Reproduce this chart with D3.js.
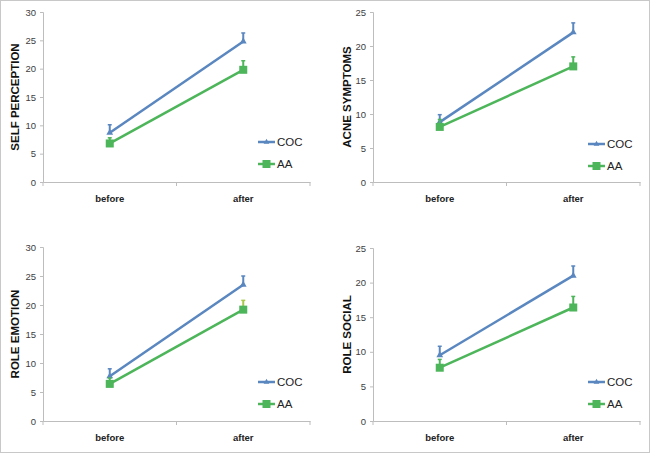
<!DOCTYPE html>
<html><head><meta charset="utf-8">
<script src="https://cdn.jsdelivr.net/npm/d3@7"></script>
<style>
html,body{margin:0;padding:0;background:#fff;}
svg{display:block;font-family:"Liberation Sans",Arial,sans-serif;}
</style></head>
<body><svg id="c" width="651" height="454"></svg>
<script>
// ---- data ----
const categories = ["before", "after"];
const seriesNames = ["COC", "AA"];
const panelTitles = ["SELF PERCEPTION", "ACNE SYMPTOMS", "ROLE EMOTION", "ROLE SOCIAL"];
const panelMax = [30, 25, 30, 25];
const panelTicks = [[0,5,10,15,20,25,30],[0,5,10,15,20,25],[0,5,10,15,20,25,30],[0,5,10,15,20,25]];
const cocValues = [[8.7, 24.8], [8.8, 22.0], [7.7, 23.5], [9.5, 21.0]];
const cocErrors = [[1.4, 1.5], [1.1, 1.4], [1.3, 1.5], [1.3, 1.4]];
const aaValues  = [[6.8, 19.8], [8.1, 17.0], [6.4, 19.2], [7.7, 16.4]];
const aaErrors  = [[1.0, 1.6], [1.1, 1.4], [1.0, 1.6], [1.2, 1.6]];

const colors = {COC: "#5a87bf", AA: "#4db55a"};
const errColors = [["#5a87bf","#5a87bf"],["#4db55a","#4db55a"]];

// ---- layout ----
const layout = [
  {x0: 43,  x1: 310, y0: 182, y1: 12,  tx: 15,  legY: 142},
  {x0: 373, x1: 640, y0: 182, y1: 12,  tx: 347, legY: 144},
  {x0: 43,  x1: 310, y0: 421, y1: 247, tx: 15,  legY: 382},
  {x0: 373, x1: 640, y0: 421, y1: 248, tx: 347, legY: 382}
];

const svg = d3.select("#c");
svg.append("rect").attr("x",0.5).attr("y",0.5).attr("width",649).attr("height",452)
  .attr("fill","#fff").attr("stroke","#c8c8c8");

panelTitles.forEach((title, i) => {
  const L = layout[i];
  const g = svg.append("g");
  const x = d3.scaleBand().domain(categories).range([L.x0, L.x1]);
  const y = d3.scaleLinear().domain([0, panelMax[i]]).range([L.y0, L.y1]);

  // y axis
  const ya = g.append("g").attr("transform", `translate(${L.x0},0)`)
    .call(d3.axisLeft(y).tickValues(panelTicks[i]).tickSize(3).tickPadding(4));
  ya.select(".domain").attr("stroke", "#bdbdbd");
  ya.selectAll(".tick line").attr("stroke", "#bdbdbd");
  ya.selectAll(".tick text").attr("fill", "#404040").attr("font-size", 9.5);

  // x axis
  const xa = g.append("g").attr("transform", `translate(0,${L.y0})`)
    .call(d3.axisBottom(x).tickSize(0).tickPadding(13));
  xa.select(".domain").attr("stroke", "#bdbdbd");
  xa.selectAll(".tick text").attr("fill", "#222").attr("font-size", 9.5).attr("font-weight", "bold");
  // category boundary ticks
  const bounds = [L.x0, (L.x0 + L.x1) / 2, L.x1];
  g.selectAll(".bt").data(bounds).join("line")
    .attr("x1", d => d).attr("x2", d => d).attr("y1", L.y0).attr("y2", L.y0 + 4)
    .attr("stroke", "#bdbdbd");

  // y title
  g.append("text")
    .attr("transform", `translate(${L.tx},${(L.y0 + L.y1) / 2}) rotate(-90)`)
    .attr("text-anchor", "middle").attr("dominant-baseline", "central")
    .attr("font-size", 11.5).attr("font-weight", "bold").attr("fill", "#111")
    .text(title);

  const cx = c => x(c) + x.bandwidth() / 2;
  const series = [
    {name: "COC", vals: cocValues[i], errs: cocErrors[i]},
    {name: "AA",  vals: aaValues[i],  errs: aaErrors[i]}
  ];
  const line = d3.line().x((d, j) => cx(categories[j])).y(d => y(d));

  series.forEach((s, si) => {
    const col = colors[s.name];
    // error bars
    s.vals.forEach((v, j) => {
      const xx = cx(categories[j]);
      const ec = (i === 2 && si === 1 && j === 1) ? "#a9c94a" : col;
      g.append("line").attr("x1", xx).attr("x2", xx).attr("y1", y(v)).attr("y2", y(v + s.errs[j]))
        .attr("stroke", ec).attr("stroke-width", 2);
      g.append("line").attr("x1", xx - 2).attr("x2", xx + 2).attr("y1", y(v + s.errs[j])).attr("y2", y(v + s.errs[j]))
        .attr("stroke", ec).attr("stroke-width", 1.5);
    });
    g.append("path").datum(s.vals).attr("d", line)
      .attr("fill", "none").attr("stroke", col).attr("stroke-width", 2.5);
    // markers
    s.vals.forEach((v, j) => {
      const xx = cx(categories[j]);
      if (s.name === "AA") {
        g.append("rect").attr("x", xx - 4).attr("y", y(v) - 4).attr("width", 8).attr("height", 8).attr("fill", col);
      } else {
        g.append("path").attr("d", d3.symbol(d3.symbolTriangle, 20)())
          .attr("transform", `translate(${xx},${y(v)})`).attr("fill", col);
      }
    });
  });

  // legend
  const lx = L.x1 - 52;
  series.forEach((s, si) => {
    const ly = L.legY + si * 22;
    g.append("line").attr("x1", lx).attr("x2", lx + 17).attr("y1", ly).attr("y2", ly)
      .attr("stroke", colors[s.name]).attr("stroke-width", 2.5);
    if (s.name === "AA") {
      g.append("rect").attr("x", lx + 4.5).attr("y", ly - 4).attr("width", 8).attr("height", 8).attr("fill", colors.AA);
    } else {
      g.append("path").attr("d", d3.symbol(d3.symbolTriangle, 14)())
        .attr("transform", `translate(${lx + 8.5},${ly})`).attr("fill", colors.COC);
    }
    g.append("text").attr("x", lx + 19).attr("y", ly).attr("dominant-baseline", "central")
      .attr("font-size", 11.5).attr("fill", "#222").text(s.name);
  });
});
</script></body></html>
